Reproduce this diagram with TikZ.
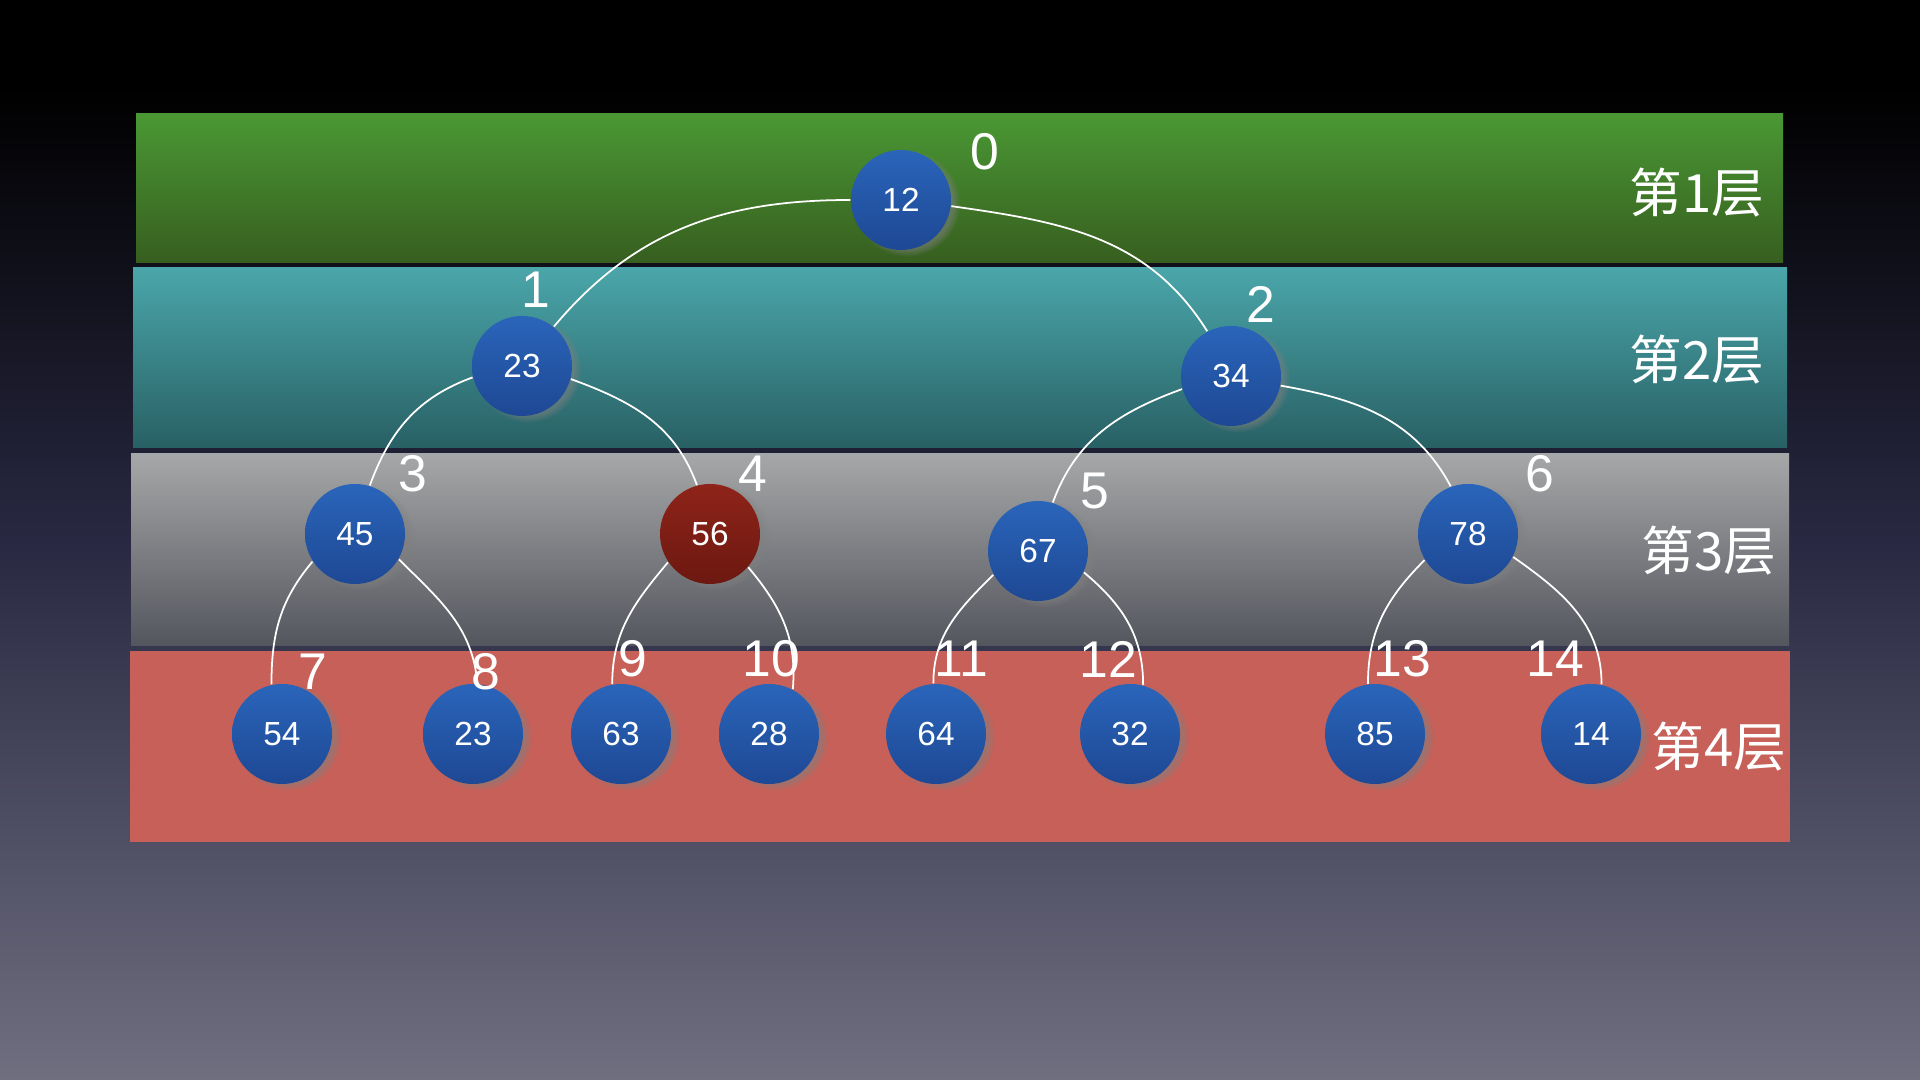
\documentclass[tikz,border=0pt]{standalone}
\usepackage{fontspec}
\setmainfont{Liberation Sans}
\newfontfamily\cjkfont{Noto Sans CJK SC}
\usetikzlibrary{shadows}

\definecolor{bgbot}{RGB}{112,111,128}
\definecolor{bgmid}{RGB}{40,40,66}
\definecolor{greentop}{RGB}{74,152,52}
\definecolor{greenbot}{RGB}{55,94,31}
\definecolor{tealtop}{RGB}{74,166,170}
\definecolor{tealbot}{RGB}{40,96,100}
\definecolor{graytop}{RGB}{166,167,168}
\definecolor{graybot}{RGB}{84,86,94}
\definecolor{redband}{RGB}{198,96,88}
\definecolor{nodetop}{RGB}{42,101,186}
\definecolor{nodebot}{RGB}{30,72,148}
\definecolor{hottop}{RGB}{142,36,26}
\definecolor{hotbot}{RGB}{108,24,16}

\pgfdeclareverticalshading{backdrop}{100bp}{color(0bp)=(bgbot); color(25bp)=(bgbot); color(50bp)=(bgmid); color(71bp)=(black); color(100bp)=(black)}

\tikzset{
  vertex/.style={circle, minimum size=1cm, inner sep=0pt, top color=nodetop, bottom color=nodebot,
    text=white, font=\fontsize{9.5pt}{11pt}\selectfont,
    circular drop shadow={shadow scale=1.07, shadow yshift=-0.3mm, opacity=0.55}},
  hot/.style={top color=hottop, bottom color=hotbot},
  idx/.style={text=white, font=\fontsize{14.7pt}{16pt}\selectfont, inner sep=0pt},
  layername/.style={text=white, font=\cjkfont\fontsize{15pt}{17pt}\selectfont, inner sep=0pt},
  branch/.style={white, line width=0.5pt},
}

\begin{document}
\begin{tikzpicture}
% Backdrop
\shade[shading=backdrop] (0,0) rectangle (19.2,10.8);
\useasboundingbox (0,0) rectangle (19.2,10.8);

% Draw the layer bands
\shade[top color=greentop, bottom color=greenbot] (1.36,8.17) rectangle (17.83,9.66);
\shade[top color=tealtop, bottom color=tealbot] (1.33,6.32) rectangle (17.87,8.12);
\shade[top color=graytop, bottom color=graybot] (1.31,4.34) rectangle (17.89,6.26);
\fill[redband] (1.30,2.38) rectangle (17.90,4.29);

% Layer names
\node[layername] (l1) at (16.97,8.87) {第1层};
\node[layername] (l2) at (16.97,7.20) {第2层};
\node[layername] (l3) at (17.09,5.29) {第3层};
\node[layername] (l4) at (17.19,3.33) {第4层};

% Tree nodes
\node[vertex] (n0) at (9.01,8.80) {12};
\node[vertex] (n1) at (5.22,7.14) {23};
\node[vertex] (n2) at (12.31,7.04) {34};
\node[vertex] (n3) at (3.55,5.46) {45};
\node[vertex, hot] (n4) at (7.10,5.46) {56};
\node[vertex] (n5) at (10.38,5.29) {67};
\node[vertex] (n6) at (14.68,5.46) {78};
\node[vertex] (n7) at (2.82,3.46) {54};
\node[vertex] (n8) at (4.73,3.46) {23};
\node[vertex] (n9) at (6.21,3.46) {63};
\node[vertex] (n10) at (7.69,3.46) {28};
\node[vertex] (n11) at (9.36,3.46) {64};
\node[vertex] (n12) at (11.30,3.46) {32};
\node[vertex] (n13) at (13.75,3.46) {85};
\node[vertex] (n14) at (15.91,3.46) {14};

% Draw the branches
\draw[branch] (n0.180) to[out=180, in=50] (n1.51);
\draw[branch] (n0.-7) to[out=-8, in=122] (n2.118);
\draw[branch] (n1.193) to[out=200, in=70] (n3.73);
\draw[branch] (n1.-15) to[out=-20, in=110] (n4.105);
\draw[branch] (n2.195) to[out=200, in=70] (n5.73);
\draw[branch] (n2.-11) to[out=-10, in=118] (n6.110);
\draw[branch] (n3.213) to[out=230, in=90] (n7.102);
\draw[branch] (n3.-30) to[out=-45, in=95] (n8.85);
\draw[branch] (n4.214) to[out=230, in=90] (n9.100);
\draw[branch] (n4.-41) to[out=-50, in=85] (n10.62);
\draw[branch] (n5.208) to[out=225, in=90] (n11.93);
\draw[branch] (n5.-25) to[out=-40, in=90] (n12.75);
\draw[branch] (n6.211) to[out=225, in=90] (n13.98);
\draw[branch] (n6.-27) to[out=-35, in=90] (n14.78);

% Index labels
\node[idx] (i0) at (9.85,9.28) {0};
\node[idx] (i1) at (5.36,7.90) {1};
\node[idx] (i2) at (12.61,7.76) {2};
\node[idx] (i3) at (4.13,6.06) {3};
\node[idx] (i4) at (7.53,6.06) {4};
\node[idx] (i5) at (10.95,5.89) {5};
\node[idx] (i6) at (15.40,6.06) {6};
\node[idx] (i7) at (3.13,4.08) {7};
\node[idx] (i8) at (4.86,4.08) {8};
\node[idx] (i9) at (6.33,4.21) {9};
\node[idx] (i10) at (7.71,4.21) {10};
\node[idx] (i11) at (9.61,4.21) {11};
\node[idx] (i12) at (11.08,4.21) {12};
\node[idx] (i13) at (14.02,4.21) {13};
\node[idx] (i14) at (15.55,4.21) {14};
\end{tikzpicture}
\end{document}
